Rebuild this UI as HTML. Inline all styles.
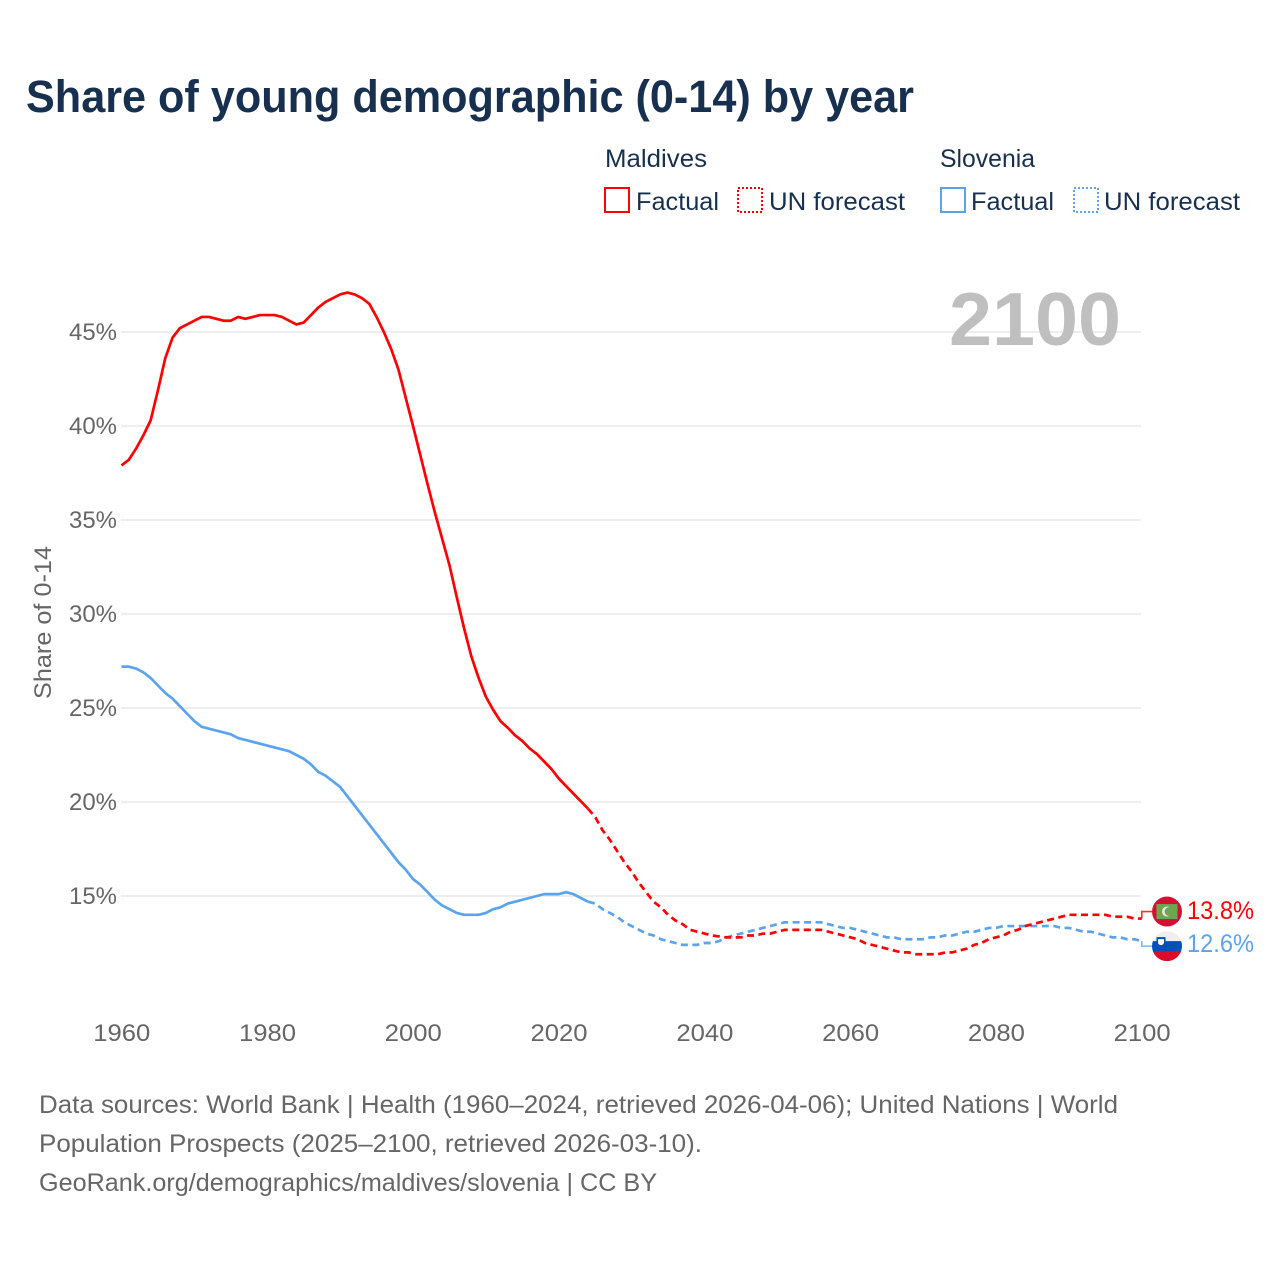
<!DOCTYPE html>
<html lang="en">
<head>
<meta charset="utf-8">
<title>Share of young demographic (0-14) by year</title>
<style>
html,body{margin:0;padding:0;background:#fff;}
svg{display:block;font-family:"Liberation Sans",sans-serif;}
</style>
</head>
<body>
<svg id="chart" xmlns="http://www.w3.org/2000/svg" width="1280" height="1280" viewBox="0 0 1280 1280">
  <defs><clipPath id="flagClip"><circle cx="0" cy="0" r="15"/></clipPath></defs>
  <rect x="0" y="0" width="1280" height="1280" fill="#fff"/>
  <text x="26" y="112" font-size="45" font-weight="bold" fill="#18304f" textLength="888" lengthAdjust="spacingAndGlyphs">Share of young demographic (0-14) by year</text>

  <g font-size="25" fill="#18304f">
    <text x="605" y="167" textLength="102" lengthAdjust="spacingAndGlyphs">Maldives</text>
    <rect x="605" y="188" width="24" height="24" fill="none" stroke="#ff0000" stroke-width="2"/>
    <text x="636" y="210" textLength="83" lengthAdjust="spacingAndGlyphs">Factual</text>
    <rect x="738" y="188" width="24" height="24" fill="none" stroke="#ff0000" stroke-width="2" stroke-dasharray="2 2"/>
    <text x="769" y="210" textLength="136" lengthAdjust="spacingAndGlyphs">UN forecast</text>
    <text x="940" y="167" textLength="95" lengthAdjust="spacingAndGlyphs">Slovenia</text>
    <rect x="941" y="188" width="24" height="24" fill="none" stroke="#5ba4ed" stroke-width="2"/>
    <text x="971" y="210" textLength="83" lengthAdjust="spacingAndGlyphs">Factual</text>
    <rect x="1074" y="188" width="24" height="24" fill="none" stroke="#5ba4ed" stroke-width="2" stroke-dasharray="2 2"/>
    <text x="1104" y="210" textLength="136" lengthAdjust="spacingAndGlyphs">UN forecast</text>
  </g>

  <g id="grid"></g>
  <text x="949" y="345" font-size="75" font-weight="bold" fill="#bfbfbf" textLength="172" lengthAdjust="spacingAndGlyphs">2100</text>
  <g id="yLabels" font-size="24" fill="#666"></g>
  <g id="xLabels" font-size="24" fill="#666"></g>
  <text transform="translate(51,699) rotate(-90)" font-size="24" fill="#666" textLength="153" lengthAdjust="spacingAndGlyphs">Share of 0-14</text>
  <g id="series"></g>
  <g id="ends"></g>

  <g font-size="25" fill="#666">
    <text x="39" y="1113" textLength="1079" lengthAdjust="spacingAndGlyphs">Data sources: World Bank | Health (1960–2024, retrieved 2026-04-06); United Nations | World</text>
    <text x="39" y="1152" textLength="663" lengthAdjust="spacingAndGlyphs">Population Prospects (2025–2100, retrieved 2026-03-10).</text>
    <text x="39" y="1191" textLength="618" lengthAdjust="spacingAndGlyphs">GeoRank.org/demographics/maldives/slovenia | CC BY</text>
  </g>
</svg>
<script>
const firstYear = 1960;
const lastFactualYear = 2024;
const xTicks = [1960, 1980, 2000, 2020, 2040, 2060, 2080, 2100];
const yTicks = [15, 20, 25, 30, 35, 40, 45];
const maldivesValues = [
  37.9,38.2,38.8,39.5,40.3,41.9,43.6,44.7,45.2,45.4,
  45.6,45.8,45.8,45.7,45.6,45.6,45.8,45.7,45.8,45.9,
  45.9,45.9,45.8,45.6,45.4,45.5,45.9,46.3,46.6,46.8,
  47.0,47.1,47.0,46.8,46.5,45.8,45.0,44.1,43.0,41.5,
  40.0,38.45,36.9,35.4,34.0,32.6,30.9,29.25,27.75,26.6,
  25.6,24.9,24.3,23.95,23.55,23.25,22.85,22.55,22.15,21.75,
  21.25,20.85,20.45,20.05,19.65,19.2,18.5,18.0,17.4,16.8,
  16.3,15.7,15.2,14.7,14.4,14.0,13.7,13.5,13.2,13.1,
  13.0,12.9,12.85,12.8,12.8,12.8,12.9,12.9,13.0,13.0,
  13.1,13.2,13.2,13.2,13.2,13.2,13.2,13.1,13.0,12.9,
  12.8,12.7,12.5,12.4,12.3,12.2,12.1,12.0,12.0,11.9,
  11.9,11.9,11.9,12.0,12.0,12.1,12.2,12.4,12.5,12.7,
  12.8,12.9,13.1,13.2,13.4,13.5,13.6,13.7,13.8,13.9,
  14.0,14.0,14.0,14.0,14.0,14.0,13.9,13.9,13.9,13.8,
  13.8
];
const sloveniaValues = [
  27.2,27.2,27.1,26.9,26.6,26.2,25.8,25.5,25.1,24.7,
  24.3,24.0,23.9,23.8,23.7,23.6,23.4,23.3,23.2,23.1,
  23.0,22.9,22.8,22.7,22.5,22.3,22.0,21.6,21.4,21.1,
  20.8,20.3,19.8,19.3,18.8,18.3,17.8,17.3,16.8,16.4,
  15.9,15.6,15.2,14.8,14.5,14.3,14.1,14.0,14.0,14.0,
  14.1,14.3,14.4,14.6,14.7,14.8,14.9,15.0,15.1,15.1,
  15.1,15.2,15.1,14.9,14.7,14.6,14.3,14.1,13.9,13.6,
  13.4,13.2,13.0,12.9,12.7,12.6,12.5,12.4,12.4,12.4,
  12.5,12.5,12.6,12.8,12.9,13.0,13.1,13.2,13.3,13.4,
  13.5,13.6,13.6,13.6,13.6,13.6,13.6,13.5,13.4,13.3,
  13.3,13.2,13.1,13.0,12.9,12.8,12.8,12.7,12.7,12.7,
  12.7,12.8,12.8,12.9,12.9,13.0,13.1,13.1,13.2,13.3,
  13.3,13.4,13.4,13.4,13.4,13.4,13.4,13.4,13.4,13.3,
  13.3,13.2,13.1,13.1,13.0,12.9,12.8,12.8,12.7,12.7,
  12.6
];

const NS = 'http://www.w3.org/2000/svg';
function xScale(year) { return 121.5 + (year - 1960) * (1141.8 - 121.5) / 140; }
function yScale(v) { return 896 - (v - 15) * 18.8; }
function make(tag, parent, attrs) {
  const el = document.createElementNS(NS, tag);
  for (const k in attrs) el.setAttribute(k, attrs[k]);
  parent.appendChild(el);
  return el;
}
function linePath(values, from, to) {
  let d = '';
  for (let i = from; i <= to; i++) {
    d += (d ? 'L' : 'M') + xScale(firstYear + i).toFixed(2) + ' ' + yScale(values[i]).toFixed(2);
  }
  return d;
}

const grid = document.getElementById('grid');
const yLabels = document.getElementById('yLabels');
yTicks.forEach(function (t) {
  const gl = make('line', grid, { x1: 121, x2: 1141, y1: yScale(t), y2: yScale(t), stroke: '#e9e9e9', 'stroke-width': 1.6 });
  
  
  const lb = make('text', yLabels, { x: 69, y: yScale(t) + 8, textLength: 48, lengthAdjust: 'spacingAndGlyphs' });
  
  
  lb.textContent = t + '%';
});

const xLabels = document.getElementById('xLabels');
xTicks.forEach(function (t) {
  const lb = make('text', xLabels, { x: xScale(t) - 28.2, y: 1041, textLength: 57, lengthAdjust: 'spacingAndGlyphs' });
  
  
  lb.textContent = String(t);
});

const series = document.getElementById('series');
const splitIndex = lastFactualYear - firstYear;
function drawSeries(name, values, color) {
  const last = values.length - 1;
  const solid = make('path', series, { d: linePath(values, 0, splitIndex), fill: 'none', stroke: color, 'stroke-width': 2.7, 'stroke-linejoin': 'round' });
  
  
  const dashed = make('path', series, { d: linePath(values, splitIndex, last), fill: 'none', stroke: color, 'stroke-width': 2.7, 'stroke-dasharray': '7 4.5' });
  
  
}
drawSeries('slovenia', sloveniaValues, '#5ba4ed');
drawSeries('maldives', maldivesValues, '#ff0000');

const ends = document.getElementById('ends');
function endLabel(name, values, color, flagOffset, labelOffset) {
  const v = values[values.length - 1];
  const ex = xScale(2100);
  const ey = yScale(v);
  const fy = ey + flagOffset;
  const conn = make('path', ends, { d: 'M' + ex + ' ' + ey + 'V' + fy + 'H1152', fill: 'none', stroke: color, 'stroke-width': 1.6, 'stroke-opacity': 0.8 });
  
  
  const lb = make('text', ends, { x: 1187, y: ey + labelOffset, 'font-size': 25, fill: color, textLength: 67, lengthAdjust: 'spacingAndGlyphs' });
  
  
  lb.textContent = v.toFixed(1) + '%';
  return fy;
}
const mFlagY = endLabel('maldives', maldivesValues, '#ff0000', -7, 0.4);
const sFlagY = endLabel('slovenia', sloveniaValues, '#5ba4ed', 5, 11);

const mFlag = make('g', ends, { transform: 'translate(1167,' + mFlagY + ')', 'clip-path': 'url(#flagClip)' });


make('rect', mFlag, { x: -15, y: -15, width: 30, height: 30, fill: '#d21034' });
make('rect', mFlag, { x: -10.5, y: -7.5, width: 21, height: 15, fill: '#6aa84f' });
make('circle', mFlag, { cx: 0, cy: 0, r: 5, fill: '#e8e8e8' });
make('circle', mFlag, { cx: 2, cy: 0, r: 4.4, fill: '#6aa84f' });

const sFlag = make('g', ends, { transform: 'translate(1167,' + sFlagY + ')', 'clip-path': 'url(#flagClip)' });


make('rect', sFlag, { x: -15, y: -15, width: 30, height: 10, fill: '#efefef' });
make('rect', sFlag, { x: -15, y: -5, width: 30, height: 11, fill: '#0050b5' });
make('rect', sFlag, { x: -15, y: 5, width: 30, height: 10, fill: '#de0a2a' });
make('path', sFlag, { d: 'M-10.5 -9H-1.5V-4A4.5 4.5 0 0 1 -10.5 -4Z', fill: '#0050b5' });
make('path', sFlag, { d: 'M-9 -7H-3V-4A3 3 0 0 1 -9 -4Z', fill: '#fff' });
</script>
</body>
</html>
